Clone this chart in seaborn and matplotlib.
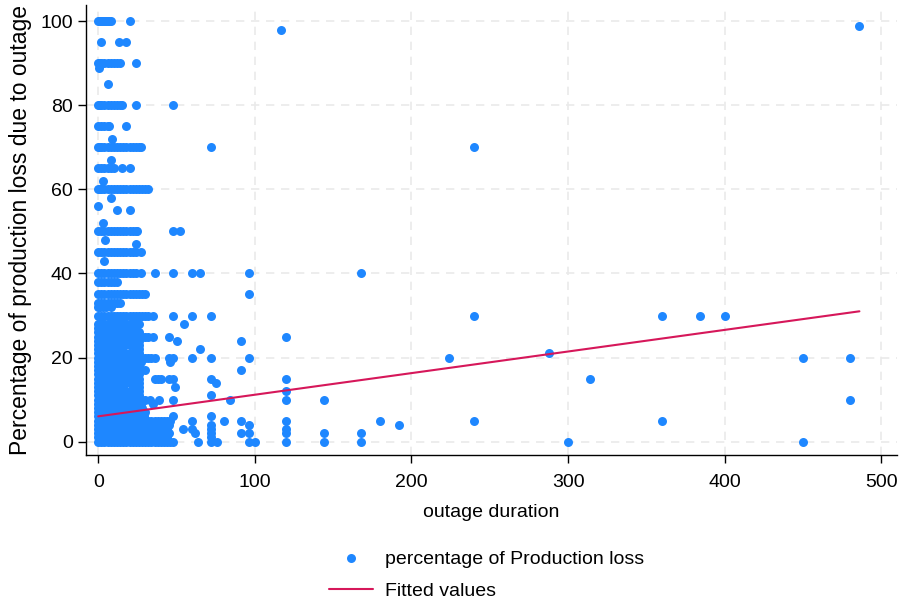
import numpy as np
import pandas as pd
import matplotlib
matplotlib.use("Agg")
import matplotlib.pyplot as plt
import seaborn as sns

# ---- data: percentage loss level -> outage durations observed at that level ----
loss_levels = [100, 99, 98, 95, 90, 89, 85, 80, 75, 72, 70, 67, 65, 62, 60, 58, 56, 55, 52, 50,
               48, 47, 45, 43, 40, 38, 35, 33, 32, 30, 28, 27, 26, 25, 24, 23, 22, 21, 20,
               19, 18, 17, 16, 15, 14, 13, 12, 11, 10, 9, 8, 7, 6, 5, 4, 3, 2, 1, 0]
durations_at_level = [
    [0, 1, 2, 3, 4, 5, 6, 7, 8, 20],                                   # 100
    [486],                                                              # 99
    [117],                                                              # 98
    [2, 13, 18],                                                        # 95
    [0, 1, 2, 4, 6, 8, 10, 12, 14, 24],                                 # 90
    [0.5],                                                              # 89
    [6],                                                                # 85
    [0, 1, 2, 4, 6, 8, 10, 12, 14, 15, 24, 48],                         # 80
    [0, 2, 4, 6, 7, 18],                                                # 75
    [9],                                                                # 72
    [0, 1, 2, 4, 6, 8, 10, 12, 14, 16, 18, 20, 22, 24, 26, 27, 72, 240],# 70
    [8],                                                                # 67
    [0, 2, 4, 6, 8, 10, 15, 20],                                        # 65
    [3],                                                                # 62
    [0, 1, 2, 4, 6, 8, 10, 12, 14, 16, 18, 20, 22, 24, 26, 28, 30, 32], # 60
    [8],                                                                # 58
    [0],                                                                # 56
    [12, 20],                                                           # 55
    [3],                                                                # 52
    [0, 2, 4, 6, 8, 10, 12, 14, 16, 18, 20, 22, 24, 25, 48, 52],        # 50
    [4.5],                                                              # 48
    [24],                                                               # 47
    [0, 2, 4, 6, 8, 10, 12, 14, 16, 18, 20, 22, 24, 27],                # 45
    [4],                                                                # 43
    [0, 2, 4, 6, 8, 10, 12, 14, 16, 18, 20, 22, 24, 27, 36, 48, 60, 65, 96, 168],  # 40
    [0, 2, 4, 6, 8, 10, 12],                                            # 38
    [0, 2, 4, 6, 8, 10, 12, 14, 16, 18, 20, 22, 24, 26, 28, 30, 96],    # 35
    [0, 2, 4, 6, 8, 10, 12, 14],                                        # 33
    [0, 1, 3, 5, 8],                                                    # 32
    [0, 2, 4, 6, 8, 10, 12, 14, 16, 18, 20, 22, 24, 26, 28, 30, 32, 35, 48, 60, 72,
     240, 360, 384, 400],                                               # 30
    [0, 2, 4, 6, 8, 10, 12, 14, 16, 18, 20, 22, 24, 26, 55],            # 28
    [0, 3, 6, 9, 12, 15, 18, 21, 24],                                   # 27
    [0, 2, 5, 8, 11, 14, 17, 20, 23, 26],                               # 26
    [0, 2, 4, 6, 8, 10, 12, 14, 16, 18, 20, 22, 24, 26, 28, 30, 32, 35, 45, 120],  # 25
    [0, 3, 6, 9, 12, 15, 18, 21, 24, 26, 50, 91],                       # 24
    [0, 2, 5, 8, 11, 14, 17, 20, 23, 26],                               # 23
    [0, 3, 6, 9, 12, 15, 24, 26, 65],                                   # 22
    [0, 2, 5, 8, 11, 14, 17, 20, 23, 26, 288],                          # 21
    [0, 2, 4, 6, 8, 10, 12, 14, 16, 18, 20, 22, 24, 26, 28, 30, 32, 34, 36, 45, 48,
     60, 72, 96, 224, 450, 480],                                        # 20
    [0, 3, 6, 9, 12, 15, 18, 21, 24, 27, 46],                           # 19
    [0, 2, 5, 8, 11, 14, 17, 20, 23, 26],                               # 18
    [0, 3, 6, 9, 12, 15, 18, 21, 24, 27, 30, 91],                       # 17
    [0, 2, 5, 8, 11, 14, 17, 20, 23, 26],                               # 16
    [0, 2, 4, 6, 8, 10, 12, 14, 16, 18, 20, 22, 24, 26, 36, 38, 40, 45, 48, 72, 120, 314],  # 15
    [0, 3, 6, 9, 12, 15, 18, 21, 24, 26, 75],                           # 14
    [0, 2, 5, 8, 11, 14, 16, 22, 24, 26, 49],                           # 13
    [0, 3, 6, 9, 12, 15, 18, 21, 24, 26, 120],                          # 12
    [0, 2, 5, 8, 11, 14, 17, 20, 23, 26, 72],                           # 11
    [0, 2, 4, 6, 8, 10, 12, 14, 16, 18, 20, 22, 24, 26, 28, 30, 33, 39, 48, 84, 120,
     144, 480],                                                         # 10
    [0, 3, 6, 9, 12, 15, 18, 21, 24, 27, 35],                           # 9
    [0, 2, 5, 8, 11, 14, 17, 20, 23, 26, 28],                           # 8
    [0, 3, 6, 9, 12, 15, 18, 21, 24, 27, 30],                           # 7
    [0, 2, 5, 8, 11, 14, 17, 20, 23, 26, 29, 48, 72],                   # 6
    [0, 2, 4, 6, 8, 10, 12, 14, 16, 18, 20, 22, 24, 26, 28, 30, 32, 34, 36, 38, 40, 42,
     44, 46, 60, 80, 91, 120, 180, 240, 360],                           # 5
    [0, 3, 6, 9, 12, 15, 18, 21, 24, 27, 30, 33, 36, 39, 42, 45, 96, 192, 72],  # 4
    [0, 2, 5, 8, 11, 14, 17, 20, 23, 26, 29, 32, 35, 38, 41, 44, 54, 60, 72, 120],  # 3
    [0, 3, 6, 9, 12, 15, 18, 21, 24, 27, 30, 33, 36, 39, 42, 45, 62, 72, 91, 96, 120,
     144, 168],                                                         # 2
    [0, 2, 5, 8, 11, 14, 17, 20, 23, 26, 29, 32, 35, 38, 41, 44, 72],   # 1
    [0, 2, 4, 6, 8, 10, 12, 14, 16, 18, 20, 22, 24, 26, 28, 30, 32, 34, 36, 38, 40, 42,
     44, 46, 48, 64, 72, 76, 96, 100, 120, 144, 168, 300, 450],         # 0
]

# fitted values (linear fit)
fit_duration = [0, 486]
fit_values = [6.0, 31.0]

x_ticks = [0, 100, 200, 300, 400, 500]
y_ticks = [0, 20, 40, 60, 80, 100]

# ---- build long table ----
dur, loss = [], []
for lvl, xs in zip(loss_levels, durations_at_level):
    for xv in xs:
        dur.append(xv)
        loss.append(lvl)
df = pd.DataFrame({"outage duration": dur, "percentage of Production loss": loss})
fit_df = pd.DataFrame({"x": fit_duration, "y": fit_values})

sns.set_style("white")
plt.rcParams["font.family"] = ["Liberation Sans", "DejaVu Sans"]
plt.rcParams["text.color"] = "black"
plt.rcParams["axes.labelcolor"] = "black"
plt.rcParams["xtick.color"] = "black"
plt.rcParams["ytick.color"] = "black"

W, H = 905, 604
fig = plt.figure(figsize=(W / 100, H / 100), dpi=100)
ax = fig.add_axes([86 / W, 1 - 455 / H, (897 - 86) / W, (455 - 5) / H])

blue = "#1E87FF"
red = "#D6175A"

sns.scatterplot(data=df, x="outage duration", y="percentage of Production loss", ax=ax,
                color=blue, s=42, linewidth=0, marker="o",
                label="percentage of Production loss", zorder=3)
sns.lineplot(data=fit_df, x="x", y="y", ax=ax, color=red, linewidth=1.5,
             label="Fitted values", zorder=4)

ax.set_xlim(-7.8, 510)
ax.set_ylim(-3.2, 103.9)
ax.set_xticks(x_ticks)
ax.set_yticks(y_ticks)
ax.grid(True, color="#EAEAEA", linestyle=(0, (5, 4)), linewidth=1.2)
ax.set_axisbelow(True)
for s in ["top", "right"]:
    ax.spines[s].set_visible(False)
for s in ["left", "bottom"]:
    ax.spines[s].set_color("black")
    ax.spines[s].set_linewidth(1.0)
ax.tick_params(axis="both", direction="out", length=6, width=1, color="black",
               labelcolor="black", labelsize=14, left=True, bottom=True)
ax.tick_params(axis="x", pad=8)
ax.tick_params(axis="y", pad=3.5)
ax.set_xlabel("outage duration", fontsize=14, labelpad=9, color="black")
ax.set_ylabel("Percentage of production loss due to outage", fontsize=16.5,
              labelpad=6, color="black")

leg = ax.legend(loc="upper center", bbox_to_anchor=(0.494, -0.172), ncol=1, frameon=False,
                fontsize=14, handlelength=2.3, handletextpad=0.62, labelspacing=0.78,
                markerscale=1.0)
for t in leg.get_texts():
    t.set_color("black")

fig.savefig("out.png", dpi=100)
